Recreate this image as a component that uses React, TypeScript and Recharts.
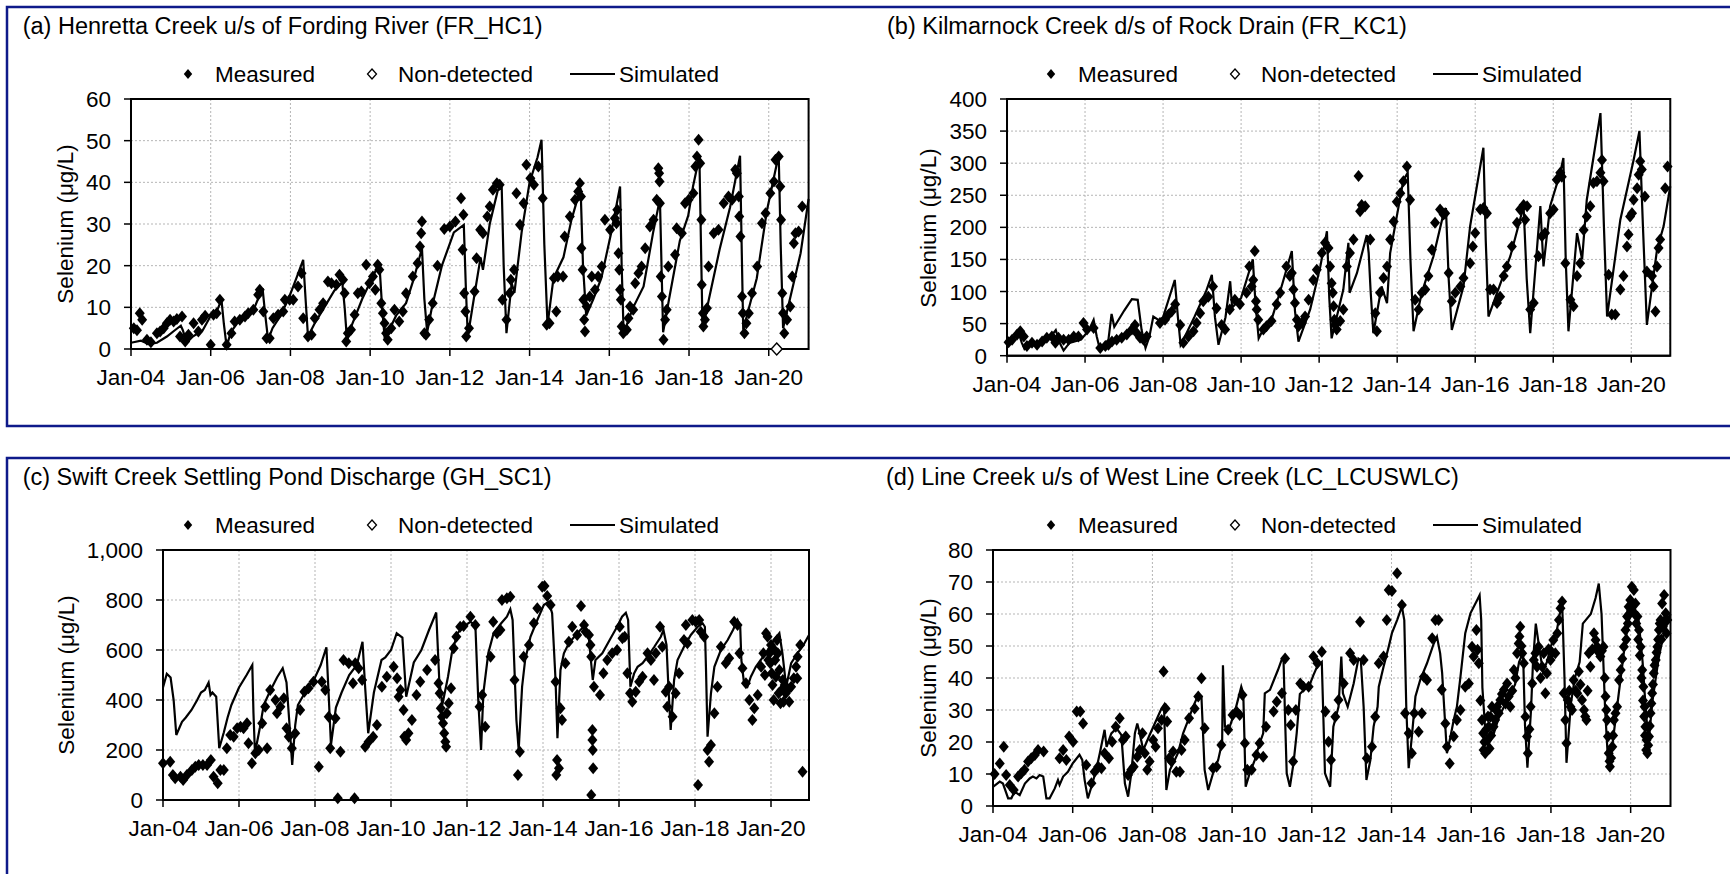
import React from 'react';
import {
  ComposedChart,
  Line,
  Scatter,
  XAxis,
  YAxis,
  CartesianGrid,
  ReferenceArea,
} from 'recharts';

type Pt = [number, number];

// x values are decimal years (Jan-04 = 2004.0)
const YEAR_TICKS = [2004, 2006, 2008, 2010, 2012, 2014, 2016, 2018, 2020];

// ---------- (a) Henretta Creek u/s of Fording River (FR_HC1) ----------
const Y_TICKS_A = [0, 10, 20, 30, 40, 50, 60];
const SIM_A: Pt[] = [
  [2004.0, 1.5], [2004.25, 2.0], [2004.45, 1.2], [2004.65, 1.5], [2004.9, 3], [2005.1, 4.5], [2005.25, 5.6],
  [2005.3, 4.5], [2005.4, 1.5], [2005.55, 3], [2005.8, 4.5], [2006.0, 8], [2006.15, 9], [2006.27, 11.8],
  [2006.33, 6], [2006.4, 0.5], [2006.5, 4], [2006.65, 6], [2006.9, 8], [2007.1, 10], [2007.3, 14.6],
  [2007.37, 8], [2007.44, 2.2], [2007.55, 5], [2007.75, 8], [2007.95, 12], [2008.15, 17], [2008.32, 21.4],
  [2008.38, 12], [2008.44, 3], [2008.6, 6], [2008.85, 10], [2009.1, 14], [2009.3, 16], [2009.36, 10],
  [2009.42, 2], [2009.55, 6], [2009.8, 12], [2010.0, 16], [2010.15, 19], [2010.23, 20.8], [2010.3, 10],
  [2010.37, 2], [2010.5, 5], [2010.65, 8], [2010.9, 11], [2011.1, 17], [2011.3, 24.2], [2011.36, 12],
  [2011.43, 4], [2011.55, 10], [2011.8, 20], [2012.1, 28], [2012.35, 29.8], [2012.4, 15], [2012.45, 3],
  [2012.6, 12], [2012.77, 22], [2012.83, 19], [2013.0, 30], [2013.2, 38], [2013.3, 39], [2013.35, 20],
  [2013.42, 3.8], [2013.55, 15.8], [2013.62, 13.5], [2013.8, 28], [2014.0, 40], [2014.2, 46], [2014.3, 50.2],
  [2014.37, 25], [2014.45, 5.8], [2014.6, 17], [2014.85, 22], [2015.05, 31], [2015.28, 38.6], [2015.34, 20],
  [2015.42, 8], [2015.6, 12], [2015.8, 17], [2016.05, 28], [2016.27, 39], [2016.31, 20], [2016.36, 3.8],
  [2016.6, 10], [2016.86, 15], [2017.1, 28], [2017.27, 36], [2017.31, 20], [2017.35, 4], [2017.5, 12],
  [2017.77, 26], [2017.98, 32], [2018.1, 39], [2018.26, 46.2], [2018.3, 25], [2018.34, 4.6], [2018.5, 12],
  [2018.77, 24], [2019.03, 34], [2019.28, 46.4], [2019.32, 25], [2019.36, 4.6], [2019.7, 17], [2019.95, 33],
  [2020.25, 46.6], [2020.3, 25], [2020.36, 5], [2020.63, 16], [2020.8, 23], [2021.0, 36],
];
const MEAS_A: Pt[] = [
  [2004.07, 5.0], [2004.15, 4.5], [2004.22, 8.6], [2004.28, 7.0], [2004.4, 2.2], [2004.5, 1.6], [2004.65, 3.8],
  [2004.73, 4.2], [2004.82, 5.0], [2004.9, 6.2], [2004.98, 7.0], [2005.07, 6.6], [2005.15, 7.2], [2005.23, 3.0],
  [2005.28, 7.8], [2005.36, 1.8], [2005.44, 3.4], [2005.57, 6.2], [2005.69, 4.2], [2005.78, 7.0], [2005.86, 8.0],
  [2006.0, 1.0], [2006.07, 8.2], [2006.15, 8.6], [2006.23, 11.8], [2006.4, 1.0], [2006.52, 3.8], [2006.6, 6.6],
  [2006.73, 7.0], [2006.86, 7.8], [2006.94, 8.6], [2007.07, 9.4], [2007.19, 13.0], [2007.23, 14.2], [2007.32, 9.0],
  [2007.4, 2.6], [2007.48, 2.6], [2007.57, 7.4], [2007.69, 8.2], [2007.82, 9.0], [2007.86, 11.8], [2007.98, 11.8],
  [2008.07, 11.8], [2008.19, 15.0], [2008.28, 18.2], [2008.32, 7.4], [2008.44, 3.0], [2008.53, 3.4], [2008.61, 7.4],
  [2008.73, 9.4], [2008.82, 11.0], [2008.94, 16.2], [2009.03, 15.8], [2009.15, 15.4], [2009.23, 17.8], [2009.32, 16.6],
  [2009.36, 13.4], [2009.4, 1.8], [2009.44, 3.8], [2009.52, 4.6], [2009.61, 8.2], [2009.69, 13.4], [2009.78, 13.8],
  [2009.9, 20.2], [2009.98, 15.8], [2010.07, 17.4], [2010.13, 14.2], [2010.19, 20.2], [2010.23, 19.0], [2010.28, 11.0],
  [2010.32, 8.6], [2010.36, 6.2], [2010.4, 3.8], [2010.44, 2.2], [2010.53, 5.0], [2010.61, 9.4], [2010.73, 6.6],
  [2010.82, 9.0], [2010.9, 13.4], [2011.07, 17.4], [2011.19, 20.6], [2011.25, 24.6], [2011.28, 27.8], [2011.3, 30.6],
  [2011.36, 3.8], [2011.4, 3.4], [2011.48, 7.0], [2011.57, 11.0], [2011.69, 20.0], [2011.86, 28.8], [2012.0, 29.4],
  [2012.14, 30.6], [2012.28, 36.2], [2012.34, 32.2], [2012.32, 23.8], [2012.36, 13.4], [2012.39, 9.0], [2012.41, 3.0],
  [2012.48, 5.0], [2012.62, 13.8], [2012.67, 21.8], [2012.76, 28.6], [2012.83, 27.8], [2012.94, 31.8], [2013.0, 34.2],
  [2013.08, 38.2], [2013.18, 39.8], [2013.25, 39.4], [2013.32, 11.8], [2013.42, 7.0], [2013.5, 13.4], [2013.53, 16.6],
  [2013.61, 19.0], [2013.67, 37.4], [2013.76, 29.8], [2013.85, 35.0], [2013.92, 44.2], [2014.02, 41.0], [2014.11, 39.4],
  [2014.22, 43.8], [2014.33, 36.2], [2014.43, 5.8], [2014.5, 6.2], [2014.61, 17.0], [2014.67, 9.0], [2014.71, 17.4],
  [2014.84, 17.4], [2014.88, 27.0], [2015.01, 31.8], [2015.14, 35.8], [2015.22, 37.8], [2015.26, 39.8], [2015.29, 36.6],
  [2015.3, 24.2], [2015.33, 19.0], [2015.35, 11.8], [2015.37, 7.0], [2015.39, 4.2], [2015.43, 10.2], [2015.51, 12.6],
  [2015.56, 17.4], [2015.64, 14.2], [2015.72, 17.4], [2015.81, 19.8], [2015.89, 31.0], [2016.02, 28.6], [2016.14, 31.4],
  [2016.18, 30.2], [2016.2, 33.4], [2016.23, 23.0], [2016.25, 19.0], [2016.27, 14.2], [2016.29, 11.8], [2016.31, 5.4],
  [2016.35, 3.8], [2016.44, 4.6], [2016.48, 7.4], [2016.52, 10.2], [2016.6, 9.4], [2016.65, 15.8], [2016.73, 18.2],
  [2016.81, 19.8], [2016.9, 24.2], [2017.02, 29.4], [2017.11, 31.0], [2017.19, 35.8], [2017.23, 43.4], [2017.25, 42.2],
  [2017.26, 40.2], [2017.27, 35.0], [2017.29, 17.4], [2017.32, 12.6], [2017.36, 2.2], [2017.4, 7.0], [2017.44, 9.4],
  [2017.48, 19.8], [2017.65, 22.6], [2017.69, 29.0], [2017.82, 27.8], [2017.9, 35.0], [2017.99, 35.8], [2018.11, 37.4],
  [2018.16, 43.8], [2018.2, 46.2], [2018.24, 50.2], [2018.28, 44.6], [2018.31, 31.0], [2018.32, 15.4], [2018.35, 8.6],
  [2018.36, 5.4], [2018.4, 7.0], [2018.45, 9.8], [2018.49, 19.8], [2018.62, 27.8], [2018.74, 28.6], [2018.87, 35.0],
  [2018.99, 36.6], [2019.08, 35.8], [2019.16, 43.0], [2019.2, 42.2], [2019.25, 36.6], [2019.26, 31.8], [2019.29, 27.0],
  [2019.33, 12.6], [2019.35, 8.6], [2019.39, 3.8], [2019.44, 6.2], [2019.5, 8.6], [2019.58, 13.4], [2019.71, 19.8],
  [2019.83, 30.2], [2019.92, 32.6], [2020.04, 37.4], [2020.13, 40.2], [2020.17, 45.4], [2020.25, 46.2], [2020.29, 39.0],
  [2020.31, 31.0], [2020.34, 13.4], [2020.36, 8.6], [2020.39, 3.8], [2020.46, 7.0], [2020.54, 10.2], [2020.59, 17.4],
  [2020.63, 25.4], [2020.67, 27.8], [2020.75, 28.2], [2020.84, 34.2],
];
const ND_A: Pt[] = [[2020.2, 0]];

// ---------- (b) Kilmarnock Creek d/s of Rock Drain (FR_KC1) ----------
const Y_TICKS_B = [0, 50, 100, 150, 200, 250, 300, 350, 400];
const SIM_B: Pt[] = [
  [2004.0, 20], [2004.3, 35], [2004.38, 20], [2004.45, 10], [2004.6, 15], [2004.9, 20], [2005.1, 28],
  [2005.25, 40], [2005.35, 20], [2005.45, 8], [2005.6, 20], [2005.9, 25], [2006.1, 40], [2006.22, 56],
  [2006.3, 30], [2006.38, 10], [2006.6, 25], [2006.68, 65], [2006.75, 45], [2007.0, 70], [2007.2, 88],
  [2007.35, 87], [2007.45, 40], [2007.55, 12], [2007.65, 30], [2007.75, 61], [2007.9, 55], [2008.0, 60],
  [2008.3, 118], [2008.38, 60], [2008.45, 17], [2008.6, 35], [2008.8, 60], [2009.1, 100], [2009.25, 126],
  [2009.33, 60], [2009.42, 17], [2009.6, 60], [2009.72, 116], [2009.77, 75], [2010.0, 90], [2010.2, 130],
  [2010.3, 150], [2010.37, 80], [2010.45, 27], [2010.6, 45], [2010.8, 60], [2011.0, 100], [2011.3, 163],
  [2011.38, 70], [2011.47, 22], [2011.77, 72], [2012.03, 139], [2012.2, 194], [2012.26, 90], [2012.32, 27],
  [2012.62, 103], [2012.75, 176], [2012.78, 98], [2012.97, 129], [2013.22, 188], [2013.27, 160], [2013.32, 100],
  [2013.39, 35], [2013.6, 108], [2013.74, 82], [2013.82, 160], [2014.16, 274], [2014.27, 285], [2014.34, 150],
  [2014.42, 38], [2014.63, 98], [2014.93, 155], [2015.19, 222], [2015.25, 230], [2015.32, 120], [2015.4, 40],
  [2015.7, 108], [2015.87, 202], [2016.21, 324], [2016.27, 180], [2016.34, 61], [2016.56, 98], [2016.9, 155],
  [2017.24, 233], [2017.32, 120], [2017.41, 35], [2017.67, 233], [2017.75, 139], [2017.92, 233], [2018.18, 285],
  [2018.26, 308], [2018.32, 150], [2018.39, 38], [2018.61, 191], [2018.74, 150], [2018.86, 243], [2019.21, 378],
  [2019.3, 200], [2019.38, 61], [2019.72, 212], [2020.06, 305], [2020.21, 350], [2020.3, 200], [2020.4, 48],
  [2020.66, 165], [2020.83, 202], [2021.0, 264],
];
const MEAS_B: Pt[] = [
  [2004.04, 21], [2004.13, 25], [2004.26, 33], [2004.34, 38], [2004.43, 30], [2004.51, 15], [2004.64, 20],
  [2004.77, 17], [2004.9, 22], [2005.02, 28], [2005.15, 30], [2005.24, 20], [2005.32, 28], [2005.45, 25],
  [2005.58, 25], [2005.71, 30], [2005.83, 30], [2005.96, 51], [2006.05, 41], [2006.22, 43], [2006.39, 12],
  [2006.52, 15], [2006.6, 17], [2006.69, 22], [2006.81, 25], [2006.94, 28], [2007.07, 33], [2007.2, 41],
  [2007.28, 48], [2007.33, 35], [2007.41, 28], [2007.5, 25], [2007.58, 30], [2007.92, 51], [2008.05, 56],
  [2008.14, 64], [2008.22, 69], [2008.31, 80], [2008.44, 48], [2008.52, 20], [2008.65, 30], [2008.78, 38],
  [2008.86, 51], [2008.95, 66], [2009.03, 85], [2009.16, 92], [2009.28, 108], [2009.37, 74], [2009.5, 48],
  [2009.59, 41], [2009.71, 72], [2009.84, 87], [2009.97, 80], [2010.14, 98], [2010.21, 139], [2010.27, 108],
  [2010.31, 118], [2010.35, 163], [2010.38, 85], [2010.4, 72], [2010.44, 56], [2010.57, 41], [2010.65, 46],
  [2010.78, 54], [2010.91, 80], [2011.0, 98], [2011.16, 139], [2011.25, 124], [2011.3, 129], [2011.34, 103],
  [2011.38, 82], [2011.43, 56], [2011.47, 46], [2011.56, 51], [2011.64, 61], [2011.73, 87], [2011.85, 118],
  [2011.94, 134], [2012.07, 160], [2012.15, 176], [2012.24, 168], [2012.28, 139], [2012.32, 113], [2012.35, 98],
  [2012.37, 77], [2012.39, 56], [2012.41, 48], [2012.45, 41], [2012.54, 54], [2012.62, 72], [2012.71, 139],
  [2012.79, 160], [2012.88, 181], [2013.01, 280], [2013.05, 225], [2013.09, 235], [2013.18, 233], [2013.31, 181],
  [2013.44, 66], [2013.48, 38], [2013.56, 98], [2013.65, 121], [2013.74, 139], [2013.82, 181], [2013.91, 209],
  [2013.99, 240], [2014.08, 253], [2014.16, 272], [2014.25, 295], [2014.33, 243], [2014.46, 87], [2014.55, 72],
  [2014.63, 98], [2014.72, 103], [2014.8, 124], [2014.89, 165], [2014.97, 207], [2015.1, 228], [2015.19, 220],
  [2015.23, 222], [2015.32, 129], [2015.4, 85], [2015.49, 98], [2015.62, 108], [2015.7, 121], [2015.87, 144],
  [2015.94, 170], [2016.0, 191], [2016.13, 228], [2016.21, 230], [2016.3, 222], [2016.38, 103], [2016.47, 103],
  [2016.56, 82], [2016.64, 92], [2016.73, 124], [2016.81, 139], [2016.94, 170], [2017.07, 207], [2017.15, 228],
  [2017.24, 235], [2017.28, 212], [2017.33, 233], [2017.41, 72], [2017.5, 82], [2017.62, 155], [2017.71, 186],
  [2017.79, 191], [2017.92, 222], [2018.01, 228], [2018.09, 274], [2018.18, 285], [2018.22, 279], [2018.31, 144],
  [2018.44, 87], [2018.52, 77], [2018.61, 124], [2018.69, 144], [2018.78, 196], [2018.86, 217], [2018.95, 233],
  [2019.03, 269], [2019.12, 272], [2019.21, 285], [2019.25, 305], [2019.29, 272], [2019.42, 126], [2019.5, 64],
  [2019.59, 64], [2019.72, 103], [2019.8, 124], [2019.89, 170], [2019.93, 189], [2019.97, 217], [2020.02, 222],
  [2020.06, 243], [2020.15, 261], [2020.19, 282], [2020.23, 303], [2020.27, 290], [2020.35, 248], [2020.4, 131],
  [2020.53, 124], [2020.57, 108], [2020.62, 69], [2020.66, 139], [2020.7, 168], [2020.74, 181], [2020.87, 261],
  [2020.93, 295],
];
const ND_B: Pt[] = [];

// ---------- (c) Swift Creek Settling Pond Discharge (GH_SC1) ----------
const Y_TICKS_C = [0, 200, 400, 600, 800, 1000];
const SIM_C: Pt[] = [
  [2004.0, 450], [2004.1, 505], [2004.2, 490], [2004.28, 400], [2004.35, 260], [2004.5, 313], [2004.6, 330],
  [2004.75, 360], [2004.9, 400], [2005.0, 430], [2005.1, 440], [2005.2, 470], [2005.25, 420], [2005.3, 430],
  [2005.4, 413], [2005.48, 207], [2005.6, 270], [2005.7, 330], [2005.8, 380], [2006.0, 450], [2006.2, 500],
  [2006.35, 540], [2006.38, 350], [2006.42, 187], [2006.55, 290], [2006.65, 380], [2006.8, 430], [2007.0, 490],
  [2007.15, 527], [2007.25, 470], [2007.33, 300], [2007.4, 140], [2007.48, 300], [2007.55, 380], [2007.7, 420],
  [2007.85, 460], [2008.0, 490], [2008.15, 540], [2008.3, 611], [2008.36, 420], [2008.42, 220], [2008.55, 370],
  [2008.7, 430], [2008.9, 500], [2009.1, 540], [2009.25, 633], [2009.32, 450], [2009.4, 267], [2009.55, 430],
  [2009.75, 560], [2009.85, 570], [2010.0, 600], [2010.15, 667], [2010.3, 650], [2010.4, 413], [2010.6, 550],
  [2010.8, 600], [2011.0, 680], [2011.19, 750], [2011.27, 480], [2011.35, 380], [2011.5, 493], [2011.6, 587],
  [2011.75, 667], [2011.9, 693], [2012.09, 713], [2012.22, 700], [2012.3, 387], [2012.37, 200], [2012.43, 427],
  [2012.56, 587], [2012.7, 667], [2012.9, 707], [2013.05, 733], [2013.14, 763], [2013.2, 720], [2013.3, 320],
  [2013.36, 200], [2013.45, 453], [2013.53, 560], [2013.67, 653], [2013.85, 720], [2014.02, 780], [2014.15, 793],
  [2014.24, 747], [2014.33, 480], [2014.38, 247], [2014.46, 520], [2014.55, 587], [2014.68, 627], [2014.9, 667],
  [2015.07, 693], [2015.2, 660], [2015.26, 560], [2015.31, 480], [2015.38, 560], [2015.56, 587], [2015.78, 647],
  [2015.95, 693], [2016.08, 733], [2016.18, 749], [2016.24, 720], [2016.3, 453], [2016.4, 507], [2016.49, 533],
  [2016.62, 547], [2016.75, 573], [2016.93, 613], [2017.1, 653], [2017.17, 680], [2017.25, 620], [2017.3, 453],
  [2017.36, 280], [2017.45, 480], [2017.54, 560], [2017.71, 613], [2017.89, 660], [2018.07, 693], [2018.2, 707],
  [2018.26, 693], [2018.29, 520], [2018.33, 253], [2018.42, 427], [2018.51, 533], [2018.68, 600], [2018.86, 640],
  [2019.0, 680], [2019.12, 720], [2019.19, 693], [2019.22, 560], [2019.29, 467], [2019.38, 453], [2019.47, 493],
  [2019.6, 533], [2019.73, 560], [2019.91, 600], [2020.08, 640], [2020.22, 667], [2020.3, 587], [2020.4, 453],
  [2020.53, 547], [2020.7, 587], [2020.88, 627], [2021.0, 660],
];
const MEAS_C: Pt[] = [
  [2004.0, 147], [2004.19, 153], [2004.26, 100], [2004.32, 87], [2004.46, 93], [2004.53, 80], [2004.63, 100],
  [2004.76, 120], [2004.85, 133], [2004.94, 140], [2005.05, 140], [2005.16, 140], [2005.26, 160], [2005.33, 93],
  [2005.44, 67], [2005.51, 120], [2005.6, 120], [2005.68, 207], [2005.77, 260], [2005.86, 253], [2005.95, 287],
  [2006.04, 293], [2006.12, 287], [2006.21, 307], [2006.25, 227], [2006.34, 147], [2006.43, 187], [2006.52, 200],
  [2006.61, 307], [2006.69, 373], [2006.74, 207], [2006.82, 440], [2006.96, 400], [2007.0, 347], [2007.09, 373],
  [2007.18, 407], [2007.25, 287], [2007.31, 253], [2007.39, 207], [2007.48, 267], [2007.61, 360], [2007.72, 433],
  [2007.83, 447], [2007.96, 473], [2008.1, 133], [2008.18, 473], [2008.27, 440], [2008.36, 333], [2008.4, 207],
  [2008.54, 327], [2008.6, 7], [2008.67, 193], [2008.75, 560], [2008.89, 547], [2009.0, 467], [2009.04, 7],
  [2009.06, 547], [2009.15, 527], [2009.24, 480], [2009.32, 213], [2009.41, 233], [2009.53, 253], [2009.63, 300],
  [2009.76, 453], [2009.89, 493], [2010.07, 533], [2010.16, 487], [2010.2, 413], [2010.25, 440], [2010.33, 360],
  [2010.35, 253], [2010.4, 240], [2010.46, 267], [2010.55, 320], [2010.67, 420], [2010.77, 473], [2010.95, 520],
  [2011.16, 560], [2011.25, 467], [2011.28, 427], [2011.31, 367], [2011.34, 333], [2011.37, 307], [2011.4, 267],
  [2011.43, 233], [2011.45, 213], [2011.47, 347], [2011.52, 387], [2011.58, 447], [2011.65, 607], [2011.72, 653],
  [2011.82, 693], [2011.91, 696], [2012.09, 733], [2012.22, 700], [2012.33, 373], [2012.4, 420], [2012.48, 293],
  [2012.62, 573], [2012.69, 713], [2012.79, 667], [2012.88, 680], [2012.92, 800], [2013.05, 807], [2013.14, 813],
  [2013.25, 480], [2013.34, 100], [2013.39, 193], [2013.49, 573], [2013.63, 620], [2013.76, 707], [2013.85, 767],
  [2013.98, 853], [2014.04, 856], [2014.11, 816], [2014.2, 780], [2014.33, 473], [2014.37, 160], [2014.42, 127],
  [2014.35, 100], [2014.46, 367], [2014.5, 320], [2014.59, 547], [2014.68, 633], [2014.77, 693], [2014.9, 660],
  [2015.0, 776], [2015.08, 700], [2015.12, 673], [2015.21, 660], [2015.25, 620], [2015.27, 573], [2015.3, 280],
  [2015.3, 240], [2015.31, 200], [2015.32, 127], [2015.27, 20], [2015.34, 453], [2015.5, 420], [2015.59, 507],
  [2015.69, 560], [2015.82, 587], [2015.95, 600], [2016.02, 693], [2016.09, 647], [2016.15, 653], [2016.22, 507],
  [2016.29, 427], [2016.35, 393], [2016.44, 433], [2016.53, 473], [2016.62, 493], [2016.75, 587], [2016.84, 560],
  [2016.92, 480], [2016.97, 587], [2017.08, 693], [2017.14, 613], [2017.23, 433], [2017.27, 373], [2017.32, 453],
  [2017.41, 333], [2017.49, 427], [2017.58, 507], [2017.71, 640], [2017.76, 700], [2017.8, 627], [2017.93, 720],
  [2018.02, 713], [2018.08, 60], [2018.11, 720], [2018.15, 673], [2018.24, 653], [2018.33, 200], [2018.37, 153],
  [2018.42, 220], [2018.51, 347], [2018.59, 453], [2018.68, 613], [2018.81, 547], [2018.9, 567], [2019.03, 713],
  [2019.12, 700], [2019.17, 587], [2019.25, 527], [2019.34, 467], [2019.43, 400], [2019.51, 320], [2019.56, 367],
  [2019.65, 420], [2019.74, 533], [2019.8, 587], [2019.84, 500], [2019.87, 667], [2019.91, 653], [2019.93, 560],
  [2019.96, 587], [2019.98, 547], [2020.0, 620], [2020.02, 507], [2020.04, 460], [2020.07, 400], [2020.09, 600],
  [2020.11, 560], [2020.13, 493], [2020.16, 640], [2020.18, 587], [2020.2, 427], [2020.22, 520], [2020.25, 387],
  [2020.28, 440], [2020.31, 480], [2020.33, 393], [2020.36, 460], [2020.39, 427], [2020.44, 440], [2020.48, 393],
  [2020.53, 453], [2020.6, 487], [2020.66, 533], [2020.69, 487], [2020.7, 573], [2020.77, 620], [2020.83, 113],
];
const ND_C: Pt[] = [];

// ---------- (d) Line Creek u/s of West Line Creek (LC_LCUSWLC) ----------
const Y_TICKS_D = [0, 10, 20, 30, 40, 50, 60, 70, 80];
const SIM_D: Pt[] = [
  [2004.0, 6], [2004.17, 7.6], [2004.25, 7], [2004.38, 2.4], [2004.46, 2.4], [2004.54, 4.5], [2004.67, 3.4],
  [2004.8, 7], [2004.92, 8.6], [2005.0, 9.2], [2005.09, 8.6], [2005.17, 9.7], [2005.26, 9.2], [2005.34, 2.4],
  [2005.42, 2.4], [2005.55, 5.5], [2005.63, 8.1], [2005.67, 6.6], [2005.76, 9.2], [2005.88, 10.7], [2006.0, 13.3],
  [2006.17, 16], [2006.24, 14.4], [2006.3, 8.1], [2006.38, 2.4], [2006.47, 6], [2006.59, 11.3], [2006.68, 16.5],
  [2006.8, 23.8], [2006.85, 18.5], [2006.97, 22.7], [2007.1, 24.3], [2007.22, 22.2], [2007.31, 7], [2007.39, 2.9],
  [2007.47, 10.2], [2007.56, 22.7], [2007.62, 25.8], [2007.68, 22.7], [2007.77, 17.5], [2007.93, 22.2],
  [2008.06, 25.8], [2008.23, 30.5], [2008.29, 31.6], [2008.35, 5], [2008.44, 11.3], [2008.56, 14.4],
  [2008.64, 16.5], [2008.77, 22.7], [2008.9, 26.9], [2009.02, 31], [2009.15, 34.7], [2009.23, 34.2],
  [2009.31, 11.3], [2009.4, 5], [2009.52, 10.2], [2009.65, 14.4], [2009.75, 20], [2009.77, 44], [2009.82, 24.8],
  [2009.94, 24.8], [2010.07, 29.5], [2010.23, 37.3], [2010.28, 35.2], [2010.34, 6], [2010.44, 10.2],
  [2010.57, 14.4], [2010.69, 19.6], [2010.78, 22.7], [2010.82, 35.2], [2010.95, 36.3], [2011.15, 42.5],
  [2011.24, 45.6], [2011.29, 45.6], [2011.33, 26.9], [2011.37, 10.2], [2011.45, 6], [2011.54, 13.3],
  [2011.62, 22.7], [2011.7, 35], [2011.96, 38.3], [2012.04, 40.9], [2012.13, 43.5], [2012.25, 45],
  [2012.33, 10.2], [2012.46, 6], [2012.54, 24.8], [2012.67, 31], [2012.74, 46.7], [2012.78, 35.2], [2012.9, 31],
  [2013.05, 38.3], [2013.17, 46.1], [2013.23, 45.6], [2013.3, 31], [2013.37, 8.1], [2013.47, 14.4],
  [2013.55, 24.8], [2013.65, 31], [2013.68, 37.3], [2013.8, 43.5], [2013.93, 49.8], [2014.01, 54],
  [2014.14, 58.1], [2014.26, 62.3], [2014.32, 58.1], [2014.37, 31], [2014.43, 11.8], [2014.51, 21.7],
  [2014.6, 34.2], [2014.72, 39.4], [2014.89, 44.6], [2015.06, 50.8], [2015.14, 52.9], [2015.22, 47.7],
  [2015.27, 41.5], [2015.32, 31], [2015.39, 16.5], [2015.48, 21.7], [2015.56, 26.9], [2015.64, 31],
  [2015.73, 40.4], [2015.85, 54], [2015.98, 60.2], [2016.15, 64.4], [2016.21, 65.9], [2016.25, 58.1],
  [2016.28, 37], [2016.35, 24], [2016.42, 19], [2016.55, 22], [2016.7, 28], [2016.9, 33], [2017.1, 38],
  [2017.2, 45], [2017.3, 48], [2017.35, 25], [2017.41, 12], [2017.5, 30], [2017.55, 45], [2017.62, 57],
  [2017.7, 50], [2017.8, 42], [2017.9, 45], [2018.0, 50], [2018.15, 55], [2018.28, 64], [2018.34, 40],
  [2018.39, 13.5], [2018.5, 32], [2018.6, 40], [2018.72, 45], [2018.8, 57], [2019.0, 60], [2019.12, 65],
  [2019.2, 69.5], [2019.27, 60], [2019.36, 30], [2019.44, 12.5], [2019.55, 20], [2019.7, 35], [2019.85, 50],
  [2019.95, 58], [2020.1, 62], [2020.2, 58], [2020.3, 45], [2020.38, 30], [2020.45, 20], [2020.55, 33],
  [2020.7, 46], [2020.85, 55], [2021.0, 60],
];
const MEAS_D: Pt[] = [
  [2004.04, 10], [2004.17, 13.3], [2004.27, 18.5], [2004.33, 9.7], [2004.42, 6.6], [2004.52, 5], [2004.63, 9.2],
  [2004.71, 10.2], [2004.79, 11.3], [2004.88, 13.9], [2004.96, 14.9], [2005.05, 15.9], [2005.13, 17.5],
  [2005.27, 17], [2005.67, 14.9], [2005.76, 17.5], [2005.84, 14.4], [2005.91, 21.7], [2006.01, 20.1],
  [2006.1, 29.5], [2006.19, 29.5], [2006.26, 25.8], [2006.34, 12.8], [2006.47, 7.1], [2006.55, 10.7],
  [2006.64, 12.3], [2006.72, 11.8], [2006.8, 16.5], [2006.91, 14.9], [2006.99, 20.1], [2007.08, 24.8],
  [2007.18, 27.4], [2007.26, 20.6], [2007.33, 21.7], [2007.39, 9.7], [2007.47, 11.3], [2007.53, 12.3],
  [2007.62, 15.4], [2007.68, 17.5], [2007.75, 22.7], [2007.81, 16.5], [2007.87, 11.3], [2007.93, 13.9],
  [2008.02, 20.6], [2008.08, 18.5], [2008.14, 24.3], [2008.23, 26.9], [2008.28, 42], [2008.33, 30.5],
  [2008.37, 26.4], [2008.42, 14.9], [2008.48, 13.9], [2008.52, 17], [2008.6, 10.7], [2008.69, 10.7],
  [2008.73, 17.5], [2008.81, 20.6], [2008.92, 27.4], [2009.06, 30.5], [2009.15, 34.2], [2009.23, 39.9],
  [2009.31, 24.3], [2009.52, 11.8], [2009.61, 12.3], [2009.73, 19.1], [2009.9, 23.8], [2010.01, 28.4],
  [2010.11, 29.5], [2010.19, 28.4], [2010.26, 34.7], [2010.32, 19.6], [2010.38, 11.3], [2010.49, 11.3],
  [2010.61, 15.9], [2010.69, 19.6], [2010.78, 15.4], [2010.85, 24.8], [2011.04, 29.5], [2011.12, 32.6],
  [2011.25, 35.2], [2011.33, 46.1], [2011.41, 30], [2011.47, 25.3], [2011.53, 13.9], [2011.6, 30],
  [2011.71, 38.3], [2011.79, 37.3], [2011.92, 37.3], [2012.04, 46.7], [2012.14, 44.6], [2012.25, 48.2],
  [2012.34, 29.5], [2012.42, 20.1], [2012.48, 14.4], [2012.59, 27.9], [2012.67, 33.1], [2012.8, 38.3],
  [2012.96, 47.7], [2013.05, 45.6], [2013.21, 57.6], [2013.3, 45.6], [2013.38, 14.9], [2013.51, 18.5],
  [2013.59, 27.9], [2013.68, 44.6], [2013.8, 46.7], [2013.88, 58.1], [2013.93, 67.5], [2014.01, 67.2],
  [2014.14, 72.7], [2014.26, 62.8], [2014.34, 29], [2014.43, 22.7], [2014.51, 16.5], [2014.57, 29],
  [2014.68, 23.2], [2014.76, 29], [2014.81, 40.4], [2014.89, 39.4], [2015.02, 52.4], [2015.1, 58.1],
  [2015.18, 58.1], [2015.26, 36.3], [2015.35, 25.8], [2015.39, 18.5], [2015.46, 13.3], [2015.56, 21.7],
  [2015.64, 26.9], [2015.73, 30], [2015.85, 37.3], [2015.94, 38.3], [2016.02, 49.8], [2016.06, 46.7],
  [2016.13, 55], [2016.16, 48.8], [2016.19, 44.6], [2016.23, 33], [2016.27, 26.9], [2016.3, 22.7],
  [2016.31, 17.5], [2016.33, 20], [2016.35, 16.5], [2016.38, 24], [2016.4, 20.6], [2016.42, 28],
  [2016.44, 24.8], [2016.46, 18], [2016.48, 27.9], [2016.5, 22], [2016.52, 31], [2016.56, 24.8],
  [2016.6, 26.9], [2016.62, 30], [2016.65, 31], [2016.69, 29], [2016.73, 33.1], [2016.77, 35],
  [2016.82, 36.3], [2016.86, 32], [2016.9, 38.3], [2016.94, 34.2], [2016.98, 31], [2017.03, 36],
  [2017.07, 42.5], [2017.11, 40], [2017.15, 47.7], [2017.19, 50.8], [2017.21, 53], [2017.23, 56],
  [2017.26, 50], [2017.28, 47.7], [2017.32, 44.6], [2017.36, 27.9], [2017.4, 21.7], [2017.42, 16.5],
  [2017.46, 24], [2017.49, 31], [2017.53, 38.3], [2017.57, 45.6], [2017.61, 47.7], [2017.65, 43.5],
  [2017.69, 49.8], [2017.74, 40], [2017.78, 43.5], [2017.82, 47.7], [2017.86, 35.2], [2017.9, 41.5],
  [2017.94, 49], [2017.99, 45.6], [2018.03, 48], [2018.06, 51.9], [2018.11, 47.7], [2018.16, 54],
  [2018.2, 58.1], [2018.24, 61.8], [2018.28, 63.9], [2018.32, 35.2], [2018.36, 26.9], [2018.39, 19.6],
  [2018.42, 33.1], [2018.46, 36], [2018.49, 31], [2018.53, 30], [2018.57, 39.4], [2018.62, 36],
  [2018.66, 35.2], [2018.7, 42], [2018.74, 38], [2018.78, 33.1], [2018.83, 30], [2018.86, 28],
  [2018.89, 26.9], [2018.92, 36], [2018.95, 47.7], [2018.99, 43.5], [2019.04, 49], [2019.08, 54],
  [2019.12, 51.9], [2019.16, 49.8], [2019.2, 48], [2019.24, 46.7], [2019.28, 48.5], [2019.32, 49.8],
  [2019.35, 40], [2019.37, 34.2], [2019.39, 30], [2019.41, 26.9], [2019.43, 21.7], [2019.45, 16.5],
  [2019.47, 14], [2019.48, 12.3], [2019.51, 15], [2019.54, 18.5], [2019.56, 22], [2019.58, 26.9],
  [2019.62, 29], [2019.66, 31], [2019.71, 39.4], [2019.75, 42.5], [2019.79, 46], [2019.83, 49.8],
  [2019.87, 55], [2019.89, 52], [2019.91, 59.2], [2019.93, 57], [2019.95, 62.3], [2019.97, 60],
  [2019.99, 64.4], [2020.01, 61], [2020.03, 68.5], [2020.05, 63], [2020.08, 67.5], [2020.1, 60],
  [2020.12, 63.3], [2020.14, 57], [2020.17, 59.2], [2020.19, 52], [2020.21, 55], [2020.23, 47],
  [2020.25, 49.8], [2020.27, 40], [2020.29, 42.5], [2020.31, 33], [2020.32, 37.3], [2020.34, 28],
  [2020.35, 31], [2020.36, 22], [2020.37, 24.8], [2020.39, 17.5], [2020.4, 20.6], [2020.42, 16.5],
  [2020.44, 19], [2020.46, 21.7], [2020.48, 25], [2020.5, 29], [2020.52, 32], [2020.54, 35.2],
  [2020.56, 38], [2020.58, 41.5], [2020.6, 44], [2020.63, 45.6], [2020.65, 48], [2020.67, 49.8],
  [2020.69, 52], [2020.71, 55], [2020.73, 57], [2020.75, 58.1], [2020.77, 52], [2020.79, 63.3],
  [2020.81, 56], [2020.84, 65.9], [2020.86, 58], [2020.88, 60.2], [2020.9, 54], [2020.92, 58.1],
];
const ND_D: Pt[] = [];

// ---------- drawing ----------
const FONT = '"Liberation Sans", Arial, sans-serif';
const BORDER = '#0e1a8a';
const YW = 90; // y-axis width
const MT = 12;
const MR = 12;
const XH = 50;

const toXY = (pts: Pt[]) => pts.map(([x, y]) => ({ x, y }));
const fmtYear = (v: number) => `Jan-${String(Math.round(v) % 100).padStart(2, '0')}`;
const fmtNum = (v: number) => v.toLocaleString('en-US');

const FilledDiamond = (p: any) => {
  const { cx, cy } = p;
  if (cx == null || cy == null) return <g />;
  return <polygon points={`${cx},${cy - 6} ${cx + 5},${cy} ${cx},${cy + 6} ${cx - 5},${cy}`} fill="#000" />;
};

const HollowDiamond = (p: any) => {
  const { cx, cy } = p;
  if (cx == null || cy == null) return <g />;
  return (
    <polygon
      points={`${cx},${cy - 6} ${cx + 5.5},${cy} ${cx},${cy + 6} ${cx - 5.5},${cy}`}
      fill="#fff"
      stroke="#000"
      strokeWidth={1.4}
    />
  );
};

interface PanelProps {
  left: number;
  top: number;
  right: number;
  bottom: number;
  yMax: number;
  yTicks: number[];
  sim: Pt[];
  meas: Pt[];
  nd: Pt[];
}

function Panel({ left, top, right, bottom, yMax, yTicks, sim, meas, nd }: PanelProps) {
  const width = right - left + YW + MR;
  const height = bottom - top + MT + XH;
  const tick = { fill: '#000', fontSize: 22.5, fontFamily: FONT };
  return (
    <div style={{ position: 'absolute', left: left - YW, top: top - MT }}>
      <ComposedChart width={width} height={height} margin={{ top: MT, right: MR, bottom: 0, left: 0 }}>
        <CartesianGrid stroke="#b5b5b5" strokeDasharray="2 2" strokeWidth={1} />
        <XAxis
          dataKey="x"
          type="number"
          domain={[2004, 2021]}
          ticks={YEAR_TICKS}
          interval={0}
          tickFormatter={fmtYear}
          height={XH}
          tickSize={7}
          tickMargin={13}
          tick={tick}
          axisLine={{ stroke: '#000', strokeWidth: 2 }}
          tickLine={{ stroke: '#000', strokeWidth: 1.5 }}
        />
        <YAxis
          dataKey="y"
          type="number"
          domain={[0, yMax]}
          ticks={yTicks}
          interval={0}
          tickFormatter={fmtNum}
          width={YW}
          tickSize={7}
          tickMargin={13}
          tick={tick}
          axisLine={{ stroke: '#000', strokeWidth: 2 }}
          tickLine={{ stroke: '#000', strokeWidth: 1.5 }}
        />
        <ReferenceArea x1={2004} x2={2021} y1={0} y2={yMax} fill="none" stroke="#000" strokeWidth={2} />
        <Line
          data={toXY(sim)}
          dataKey="y"
          type="linear"
          stroke="#000"
          strokeWidth={2.2}
          dot={false}
          activeDot={false}
          isAnimationActive={false}
        />
        <Scatter data={toXY(meas)} shape={FilledDiamond} isAnimationActive={false} />
        <Scatter data={toXY(nd)} shape={HollowDiamond} isAnimationActive={false} />
      </ComposedChart>
    </div>
  );
}

function Legend({ x0, y }: { x0: number; y: number }) {
  const ts = { fontSize: 22.5, fontFamily: FONT, fill: '#000' };
  return (
    <g>
      <polygon points={`${x0},${y - 5} ${x0 + 4.2},${y} ${x0},${y + 5} ${x0 - 4.2},${y}`} fill="#000" />
      <text x={x0 + 27} y={y + 8} {...ts}>Measured</text>
      <polygon
        points={`${x0 + 184},${y - 5} ${x0 + 188.5},${y} ${x0 + 184},${y + 5} ${x0 + 179.5},${y}`}
        fill="#fff"
        stroke="#000"
        strokeWidth={1.3}
      />
      <text x={x0 + 210} y={y + 8} {...ts}>Non-detected</text>
      <line x1={x0 + 382} x2={x0 + 427} y1={y} y2={y} stroke="#000" strokeWidth={2.2} />
      <text x={x0 + 431} y={y + 8} {...ts}>Simulated</text>
    </g>
  );
}

function YLabel({ x, y }: { x: number; y: number }) {
  return (
    <text
      x={x}
      y={y}
      transform={`rotate(-90 ${x} ${y})`}
      textAnchor="middle"
      dominantBaseline="central"
      fontSize={22.5}
      fontFamily={FONT}
      fill="#000"
    >
      Selenium (μg/L)
    </text>
  );
}

export default function App() {
  const title = { fontSize: 23.5, fontFamily: FONT, fill: '#000' };
  return (
    <div style={{ position: 'absolute', left: 0, top: 0, width: 1730, height: 874, background: '#fff', overflow: 'hidden' }}>
      <Panel left={130.7} top={99.3} right={808.3} bottom={349.3} yMax={60} yTicks={Y_TICKS_A} sim={SIM_A} meas={MEAS_A} nd={ND_A} />
      <Panel left={1006.7} top={99.3} right={1670} bottom={356} yMax={400} yTicks={Y_TICKS_B} sim={SIM_B} meas={MEAS_B} nd={ND_B} />
      <Panel left={162.7} top={550} right={808.7} bottom={800} yMax={1000} yTicks={Y_TICKS_C} sim={SIM_C} meas={MEAS_C} nd={ND_C} />
      <Panel left={993.3} top={550} right={1670.8} bottom={806} yMax={80} yTicks={Y_TICKS_D} sim={SIM_D} meas={MEAS_D} nd={ND_D} />
      <svg
        width={1730}
        height={874}
        style={{ position: 'absolute', left: 0, top: 0, pointerEvents: 'none' }}
      >
        <path d="M1731 7 L7 7 L7 426 L1731 426" fill="none" stroke={BORDER} strokeWidth={2.5} />
        <path d="M1731 458 L7 458 L7 880" fill="none" stroke={BORDER} strokeWidth={2.5} />
        <text x={22.7} y={33.5} {...title}>(a) Henretta Creek u/s of Fording River (FR_HC1)</text>
        <text x={887} y={33.5} {...title}>(b) Kilmarnock Creek d/s of Rock Drain (FR_KC1)</text>
        <text x={22.7} y={484.5} {...title}>(c) Swift Creek Settling Pond Discharge (GH_SC1)</text>
        <text x={886} y={484.5} {...title}>(d) Line Creek u/s of West Line Creek (LC_LCUSWLC)</text>
        <Legend x0={188} y={74} />
        <Legend x0={1051} y={74} />
        <Legend x0={188} y={525} />
        <Legend x0={1051} y={525} />
        <YLabel x={65} y={224} />
        <YLabel x={928} y={228} />
        <YLabel x={66.7} y={675} />
        <YLabel x={928.3} y={678} />
      </svg>
    </div>
  );
}
